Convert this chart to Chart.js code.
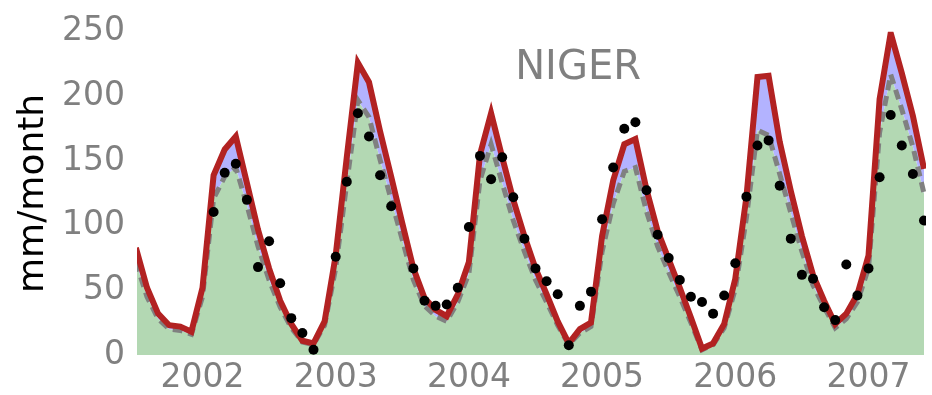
<!DOCTYPE html>
<html>
<head>
<meta charset="utf-8">
<script src="https://cdn.jsdelivr.net/npm/chart.js@4.4.1/dist/chart.umd.min.js"></script>
<style>
  html, body { margin: 0; padding: 0; background: #ffffff; }
  canvas { display: block; }
</style>
</head>
<body>
<canvas id="chart" width="932" height="395"></canvas>
<script>
// Monthly rainfall over the Niger basin, July 2001 - June 2007
const basinName = 'NIGER';
const yAxisTitle = 'mm/month';
const startYear = 2001;
const startMonth = 7;
const yearTicks = [2002, 2003, 2004, 2005, 2006, 2007];
const rainTicks = [0, 50, 100, 150, 200, 250];

// upper model estimate (solid line)
const modelUpper = [
  83, 52, 32, 23, 22, 18, 52, 139, 159, 169,
  133, 97, 67, 42, 24, 11, 9, 26, 77, 153,
  226, 211, 173, 138, 102, 67, 44, 35, 30, 47,
  72, 155, 187, 153, 120, 92, 67, 47, 26, 9,
  20, 25, 92, 135, 163, 167, 128, 96, 74, 52,
  29, 5, 9, 24, 59, 122, 215, 216, 165, 127,
  92, 62, 42, 24, 32, 47, 77, 198, 249, 218,
  185, 144
];

// lower model estimate (dashed line)
const modelLower = [
  72, 45, 28, 20, 19, 16, 45, 121, 138, 145,
  116, 84, 58, 37, 21, 10, 8, 23, 67, 133,
  197, 184, 151, 120, 89, 58, 38, 30, 26, 41,
  63, 135, 163, 133, 104, 80, 58, 41, 23, 8,
  17, 22, 80, 117, 142, 145, 111, 84, 64, 45,
  25, 4, 8, 21, 51, 106, 174, 170, 140, 110,
  80, 54, 37, 21, 28, 41, 67, 172, 217, 190,
  161, 125
];

// observed monthly values (gaps where no observation exists)
const observed = [
  null, null, null, null, null, null, null, 110.6, 141, 148,
  120, 68, 88, 55.5, 28.5, 17, 4, null, 76, 134,
  187, 169, 139, 115, null, 67, 42, 38, 39, 52,
  99, 154, 136, 153, 122, 90, 67, 57, 47, 7.6,
  38, 49, 105, 145, 175, 180, 127.5, 93, 75, 58,
  45, 41, 32, 46, 71, 122.5, 162, 166, 131, 90,
  62, 59, 37, 27, 70, 46, 67, 137.5, 185.6, 162,
  140, 104
];

const monthPos = modelUpper.map((_, i) => startYear + (startMonth - 1 + i) / 12);
const toPoints = (arr) => arr.map((v, i) => ({ x: monthPos[i], y: v }));

const tickFont = { family: 'DejaVu Sans', size: 33 };
const greyText = '#808080';

const basinLabel = {
  id: 'basinLabel',
  afterDatasetsDraw(chart) {
    const { ctx, chartArea } = chart;
    ctx.save();
    ctx.font = '40px "DejaVu Sans"';
    ctx.fillStyle = greyText;
    ctx.textAlign = 'center';
    ctx.textBaseline = 'alphabetic';
    const x = chartArea.left + 0.559 * (chartArea.right - chartArea.left);
    const y = chartArea.top + 0.1455 * (chartArea.bottom - chartArea.top);
    ctx.fillText(basinName, x, y);
    ctx.restore();
  }
};

new Chart(document.getElementById('chart'), {
  type: 'line',
  data: {
    datasets: [
      {
        label: 'observed',
        data: toPoints(observed),
        showLine: false,
        pointRadius: 5,
        pointBorderWidth: 0,
        pointBackgroundColor: '#000000',
        pointBorderColor: '#000000'
      },
      {
        label: 'upper',
        data: toPoints(modelUpper),
        borderColor: '#b22222',
        borderWidth: 6,
        pointRadius: 0,
        tension: 0,
        fill: { target: '+1', above: 'rgb(179,179,255)', below: 'rgb(179,179,255)' },
        backgroundColor: 'rgb(179,179,255)'
      },
      {
        label: 'lower',
        data: toPoints(modelLower),
        borderColor: '#808080',
        borderWidth: 5,
        borderDash: [10, 6],
        pointRadius: 0,
        tension: 0,
        fill: 'origin',
        backgroundColor: 'rgb(179,216,179)'
      }
    ]
  },
  options: {
    responsive: false,
    animation: false,
    devicePixelRatio: 1,
    layout: { padding: { left: 0, right: 6, top: 25, bottom: 0 } },
    plugins: {
      legend: { display: false },
      tooltip: { enabled: false },
      filler: { drawTime: 'beforeDatasetsDraw' }
    },
    scales: {
      x: {
        type: 'linear',
        min: 2001.5083,
        max: 2007.4317,
        grid: { display: false, drawTicks: false },
        border: { display: false },
        afterBuildTicks(scale) {
          scale.ticks = yearTicks.map(v => ({ value: v }));
        },
        afterFit(scale) { scale.height = 40; },
        ticks: {
          autoSkip: false,
          maxRotation: 0,
          padding: 4,
          color: greyText,
          font: tickFont,
          callback: (v) => String(v)
        }
      },
      y: {
        min: 0,
        max: 250,
        grid: { display: false, drawTicks: false },
        border: { display: false },
        afterBuildTicks(scale) {
          scale.ticks = rainTicks.map(v => ({ value: v }));
        },
        afterFit(scale) { scale.width = 137; },
        ticks: {
          padding: 12,
          color: greyText,
          font: tickFont,
          callback: (v) => String(v)
        },
        title: {
          display: true,
          text: yAxisTitle,
          color: '#000000',
          font: { family: 'DejaVu Sans', size: 36 },
          padding: { top: 12, bottom: 0 }
        }
      }
    }
  },
  plugins: [basinLabel]
});
</script>
</body>
</html>
